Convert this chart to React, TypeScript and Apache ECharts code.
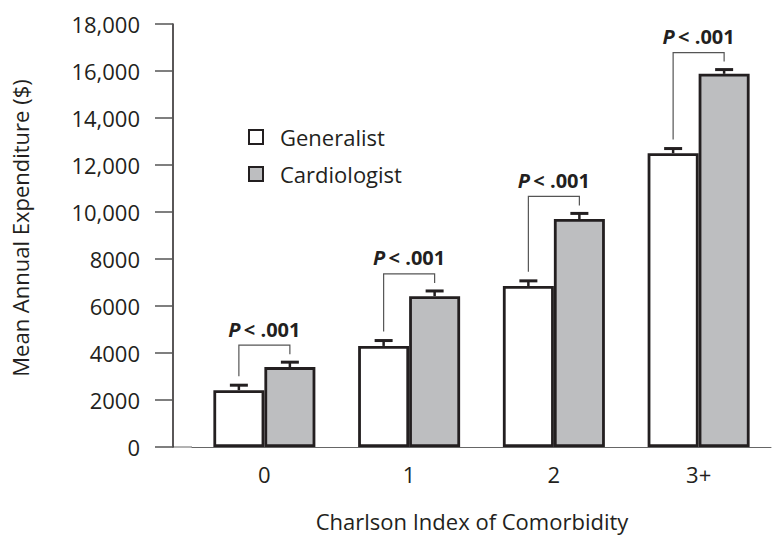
import React, { useEffect, useRef } from "react";
import * as echarts from "echarts";

const categories = ["0", "1", "2", "3+"];
const generalist = [2420, 4300, 6850, 12500];
const cardiologist = [3400, 6420, 9700, 15880];
const generalistErr = [210, 230, 220, 200];
const cardiologistErr = [210, 220, 240, 180];
const pLabels = ["< .001", "< .001", "< .001", "< .001"];
const seriesNames = ["Generalist", "Cardiologist"];

const FONT = "'Open Sans', 'Noto Sans', sans-serif";
const INK = "#231f20";
const BAR_W = 51;

function fmt(v: number): string {
  return v >= 10000 ? v.toLocaleString("en-US") : String(v);
}

export default function App() {
  const ref = useRef<HTMLDivElement>(null);
  useEffect(() => {
    document.body.style.margin = "0";
    if (!ref.current) return;
    const chart = echarts.init(ref.current, null, { renderer: "svg" });
    const customData = categories.map((_, i) => [
      i,
      generalist[i],
      generalistErr[i],
      cardiologist[i],
      cardiologistErr[i],
    ]);
    const option: any = {
      animation: false,
      backgroundColor: "#ffffff",
      textStyle: { fontFamily: FONT },
      grid: { left: 192, right: 4, top: 24, bottom: 90, containLabel: false },
      legend: {
        orient: "vertical",
        left: 248,
        top: 126,
        padding: 0,
        itemWidth: 14,
        itemHeight: 14,
        itemGap: 15,
        icon: "rect",
        data: seriesNames,
        itemStyle: { borderWidth: 2, borderColor: INK },
        textStyle: {
          fontFamily: FONT,
          fontSize: 22,
          color: INK,
          padding: [0, 0, 0, 12],
        },
      },
      xAxis: {
        type: "category",
        data: categories,
        axisLine: { lineStyle: { color: "#666", width: 1 } },
        axisTick: { show: false },
        axisLabel: {
          fontFamily: FONT,
          fontSize: 22,
          color: INK,
          margin: 16,
        },
      },
      yAxis: {
        type: "value",
        min: 0,
        max: 18000,
        interval: 2000,
        offset: 19,
        splitLine: { show: false },
        axisLine: { show: true, lineStyle: { color: INK, width: 1.5 } },
        axisTick: { show: true, length: 18, lineStyle: { color: "#555", width: 1.5 } },
        axisLabel: {
          fontFamily: FONT,
          fontSize: 22,
          color: INK,
          margin: 33,
          formatter: (v: number) => fmt(v),
        },
      },
      series: [
        {
          name: seriesNames[0],
          type: "bar",
          data: generalist,
          barWidth: BAR_W,
          barGap: "0%",
          itemStyle: { color: "#ffffff", borderColor: INK, borderWidth: 2.8 },
        },
        {
          name: seriesNames[1],
          type: "bar",
          data: cardiologist,
          barWidth: BAR_W,
          itemStyle: { color: "#bdbec0", borderColor: INK, borderWidth: 2.8 },
        },
        {
          type: "custom",
          data: customData,
          z: 5,
          clip: false,
          renderItem: (params: any, api: any) => {
            const idx = api.value(0);
            const gv = api.value(1);
            const ge = api.value(2);
            const cv = api.value(3);
            const ce = api.value(4);
            const half = BAR_W / 2;
            const base = api.coord([idx, 0]);
            const cx = base[0];
            const gx = cx - half;
            const kx = cx + half;
            const gTop = api.coord([idx, gv])[1];
            const gCap = api.coord([idx, gv + ge])[1];
            const kTop = api.coord([idx, cv])[1];
            const kCap = api.coord([idx, cv + ce])[1];
            const bracketTop = kCap - 17;
            const capHalf = 9;
            const errStyle = { stroke: INK, lineWidth: 2.5 };
            const capStyle = { stroke: INK, lineWidth: 3 };
            return {
              type: "group",
              children: [
                { type: "line", shape: { x1: gx, y1: gTop, x2: gx, y2: gCap }, style: errStyle },
                { type: "line", shape: { x1: gx - capHalf, y1: gCap, x2: gx + capHalf, y2: gCap }, style: capStyle },
                { type: "line", shape: { x1: kx, y1: kTop, x2: kx, y2: kCap }, style: errStyle },
                { type: "line", shape: { x1: kx - capHalf, y1: kCap, x2: kx + capHalf, y2: kCap }, style: capStyle },
                {
                  type: "polyline",
                  shape: {
                    points: [
                      [gx, gCap - 9],
                      [gx, bracketTop],
                      [kx, bracketTop],
                      [kx, kCap - 8],
                    ],
                  },
                  style: { stroke: "#555", lineWidth: 1.2, fill: null },
                },
                {
                  type: "text",
                  x: cx,
                  y: bracketTop - 6,
                  style: {
                    text: "{p|P} {b|" + pLabels[idx] + "}",
                    align: "center",
                    verticalAlign: "bottom",
                    rich: {
                      p: { fontFamily: FONT, fontSize: 20, fontWeight: "bold", fontStyle: "italic", fill: INK },
                      b: { fontFamily: FONT, fontSize: 20, fontWeight: "bold", fill: INK },
                    },
                  },
                },
              ],
            };
          },
        },
      ],
      graphic: [
        {
          type: "line",
          shape: { x1: 173, y1: 447, x2: 192, y2: 447 },
          style: { stroke: "#666", lineWidth: 1 },
        },
        {
          type: "text",
          x: 20,
          y: 228,
          rotation: Math.PI / 2,
          style: {
            text: "Mean Annual Expenditure ($)",
            fontFamily: FONT,
            fontSize: 22,
            fill: INK,
            align: "center",
            verticalAlign: "middle",
          },
        },
        {
          type: "text",
          x: 472,
          y: 521,
          style: {
            text: "Charlson Index of Comorbidity",
            fontFamily: FONT,
            fontSize: 22,
            fill: INK,
            align: "center",
            verticalAlign: "middle",
          },
        },
      ],
    };
    chart.setOption(option);
    return () => chart.dispose();
  }, []);
  return <div ref={ref} style={{ width: 775, height: 537 }} />;
}
